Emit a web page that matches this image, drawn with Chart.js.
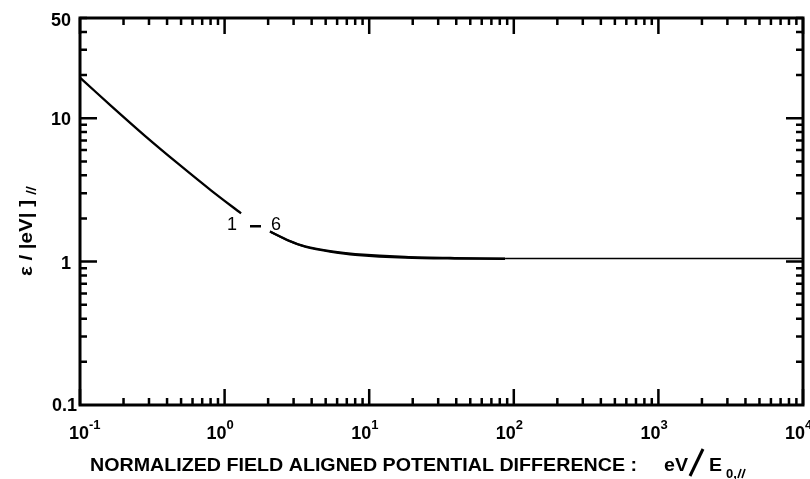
<!DOCTYPE html>
<html>
<head>
<meta charset="utf-8">
<script src="https://cdn.jsdelivr.net/npm/chart.js@4/dist/chart.umd.min.js"></script>
<style>
  body { margin: 0; background: #fff; }
  canvas { display: block; }
</style>
</head>
<body>
<canvas id="chart" width="810" height="479"></canvas>
<script>
// low-potential branch, ends just before the "1 - 6" label
var lowX = [0.1, 0.164, 0.28, 0.477, 0.809, 1.30];
var lowY = [19.2, 12.2, 7.57, 4.82, 3.13, 2.17];
// curves 1-6 bundle after the label (upper and lower edge)
var bundleX = [2.06, 2.8, 3.6, 5.5, 8.0, 17.7, 39, 87];
var bundleUpperY = [1.62, 1.40, 1.28, 1.18, 1.13, 1.08, 1.06, 1.05];
var bundleLowerY = [1.62, 1.39, 1.27, 1.17, 1.115, 1.065, 1.05, 1.045];
// flat tail out to the right edge
var tailX = [87, 1000, 10000];
var tailY = [1.05, 1.05, 1.05];

var xMajor = [0.1, 1, 10, 100, 1000, 10000];
var xExponents = ['-1', '0', '1', '2', '3', '4'];
var yMajor = [0.1, 1, 10, 50];
var yTickLabels = ['0.1', '1', '10', '50'];

var FONT = '"Liberation Sans", Arial, sans-serif';

function pts(xs, ys) {
    return xs.map(function(x, i) { return {x: x, y: ys[i]}; });
}

function lineSet(data, width) {
    return {
        data: data,
        showLine: true,
        borderColor: '#000',
        borderWidth: width,
        pointRadius: 0,
        tension: 0.3,
        fill: false
    };
}

// minor positions 2..9 within each decade
function minors(lo, hi) {
    var out = [];
    for (var d = lo; d < hi; d *= 10) {
        for (var m = 2; m <= 9; m++) {
            var v = m * d;
            if (v < hi * 1.0001) out.push(v);
        }
    }
    return out;
}

function fitText(ctx, text, x, y, width) {
    var w = ctx.measureText(text).width;
    ctx.save();
    ctx.translate(x, y);
    ctx.scale(width / w, 1);
    ctx.fillText(text, 0, 0);
    ctx.restore();
}

function parallelMark(ctx, x, y, h) {
    // slanted double stroke used as the "parallel" subscript
    ctx.save();
    ctx.lineWidth = 1.6;
    ctx.beginPath();
    ctx.moveTo(x + 3, y - h); ctx.lineTo(x, y);
    ctx.moveTo(x + 7, y - h); ctx.lineTo(x + 4, y);
    ctx.stroke();
    ctx.restore();
}

var axesPlugin = {
    id: 'axesFrame',
    afterDatasetsDraw: function(chart) {
        var ctx = chart.ctx;
        var a = chart.chartArea;
        var xs = chart.scales.x, ys = chart.scales.y;
        ctx.save();
        ctx.strokeStyle = '#000';
        ctx.fillStyle = '#000';

        // frame
        ctx.lineWidth = 3;
        ctx.strokeRect(a.left, a.top, a.right - a.left, a.bottom - a.top);

        // ticks on all four sides
        ctx.lineWidth = 2.5;
        function xTick(v, len) {
            var px = xs.getPixelForValue(v);
            ctx.beginPath();
            ctx.moveTo(px, a.bottom); ctx.lineTo(px, a.bottom - len);
            ctx.moveTo(px, a.top); ctx.lineTo(px, a.top + len);
            ctx.stroke();
        }
        function yTick(v, len) {
            var py = ys.getPixelForValue(v);
            ctx.beginPath();
            ctx.moveTo(a.left, py); ctx.lineTo(a.left + len, py);
            ctx.moveTo(a.right, py); ctx.lineTo(a.right - len, py);
            ctx.stroke();
        }
        xMajor.forEach(function(v) { xTick(v, 16); });
        minors(0.1, 10000).forEach(function(v) { if (xMajor.indexOf(v) < 0) xTick(v, 7); });
        [1, 10].forEach(function(v) { yTick(v, 17); });
        minors(0.1, 50).forEach(function(v) { yTick(v, 7); });

        // y tick labels
        ctx.font = 'bold 18px ' + FONT;
        ctx.textBaseline = 'middle';
        ctx.textAlign = 'right';
        yMajor.forEach(function(v, i) {
            var py = ys.getPixelForValue(v);
            var right = v === 0.1 ? 77 : 71;
            var yy = v === 50 ? py + 3 : (v === 0.1 ? py + 1 : py + 2);
            ctx.fillText(yTickLabels[i], right, yy);
        });

        // x tick labels: 10 with a raised exponent
        ctx.textBaseline = 'alphabetic';
        xMajor.forEach(function(v, i) {
            var px = xs.getPixelForValue(v);
            ctx.font = 'bold 18px ' + FONT;
            ctx.textAlign = 'right';
            var right = i === 0 ? px + 9 : px + 2;
            ctx.fillText('10', right, 439);
            ctx.font = 'bold 13px ' + FONT;
            ctx.textAlign = 'left';
            ctx.fillText(xExponents[i], right, 429);
        });

        // x axis title
        ctx.textAlign = 'left';
        ctx.font = 'bold 19px ' + FONT;
        fitText(ctx, 'NORMALIZED FIELD ALIGNED POTENTIAL DIFFERENCE :', 90, 471, 547);
        fitText(ctx, 'eV', 664, 471, 24);
        ctx.lineWidth = 3;
        ctx.beginPath();
        ctx.moveTo(703, 449); ctx.lineTo(690, 476);
        ctx.stroke();
        fitText(ctx, 'E', 709, 471, 13);
        ctx.font = 'bold 13px ' + FONT;
        ctx.fillText('0,', 726, 478);
        parallelMark(ctx, 738, 478, 9);

        // y axis title, rotated
        ctx.save();
        ctx.translate(32, 276);
        ctx.rotate(-Math.PI / 2);
        ctx.font = 'bold 18px ' + FONT;
        ctx.textAlign = 'left';
        fitText(ctx, '\u03b5 / |eV| ]', 0, 0, 76);
        parallelMark(ctx, 82, 4, 10);
        ctx.restore();

        // curve label
        ctx.font = '18px ' + FONT;
        ctx.textAlign = 'center';
        ctx.fillText('1', 232, 230);
        ctx.fillRect(250, 225, 11, 2.5);
        ctx.fillText('6', 276, 230);

        ctx.restore();
    }
};

new Chart(document.getElementById('chart').getContext('2d'), {
    type: 'scatter',
    data: {
        datasets: [
            lineSet(pts(lowX, lowY), 2.3),
            lineSet(pts(bundleX, bundleUpperY), 2.2),
            lineSet(pts(bundleX, bundleLowerY), 2.2),
            lineSet(pts(tailX, tailY), 1.6)
        ]
    },
    options: {
        responsive: false,
        animation: false,
        layout: { padding: { left: 80, right: 7, top: 18, bottom: 74 } },
        plugins: { legend: { display: false }, tooltip: { enabled: false } },
        scales: {
            x: { type: 'logarithmic', min: 0.1, max: 10000, display: false },
            y: { type: 'logarithmic', min: 0.1, max: 50, display: false }
        }
    },
    plugins: [axesPlugin]
});
</script>
</body>
</html>
